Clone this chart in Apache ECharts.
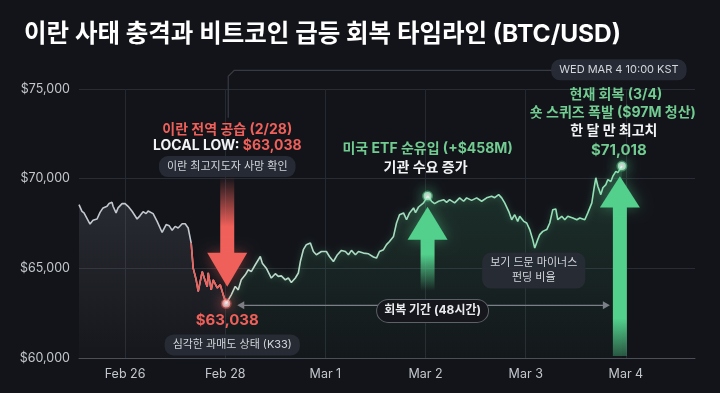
<!DOCTYPE html>
<html>
<head>
<meta charset="utf-8">
<script src="https://cdn.jsdelivr.net/npm/echarts@6/dist/echarts.min.js"></script>
<style>
html,body{margin:0;padding:0;background:#121419;}
#chart{width:720px;height:393px;}
</style>
</head>
<body>
<div id="chart"></div>
<script>
// x 값은 눈금 위치 기준 (0 = Feb 26, 1 = Feb 28, ... 5 = Mar 4)
const dayTicks = [0, 1, 2, 3, 4, 5];
const dayLabels = ['Feb 26', 'Feb 28', 'Mar 1', 'Mar 2', 'Mar 3', 'Mar 4'];

const btcT = [-0.46,-0.43,-0.41,-0.35,-0.32,-0.28,-0.25,-0.22,-0.18,-0.16,-0.13,-0.12,-0.09,-0.07,-0.03,0,
  0.03,0.07,0.12,0.15,0.18,0.21,0.23,0.28,0.32,0.37,0.41,0.44,0.47,0.5,0.53,0.57,0.6,0.63,
  0.66,0.68,0.71,0.73,0.77,0.79,0.82,0.83,0.86,0.88,0.92,0.95,0.98,1.01,
  1.06,1.1,1.13,1.16,1.2,1.23,1.26,1.3,1.35,1.37,1.41,1.46,1.5,1.53,1.56,1.6,1.63,1.66,1.7,1.73,1.75,1.78,1.81,1.85,1.88,1.91,1.96,
  2.01,2.04,2.08,2.12,2.16,2.2,2.23,2.26,2.3,2.33,2.38,2.43,2.48,2.51,2.54,2.58,2.61,2.64,2.68,2.71,2.74,2.78,2.81,2.84,2.88,2.9,2.93,2.98,3.02,
  3.06,3.09,3.13,3.18,3.21,3.24,3.29,3.34,3.38,3.41,3.46,3.51,3.56,3.61,3.66,3.69,3.73,3.76,3.79,3.83,3.86,3.89,3.92,3.94,3.98,4.01,
  4.04,4.07,4.09,4.12,4.14,4.17,4.21,4.24,4.27,4.3,4.32,4.36,4.39,4.42,4.47,4.51,4.54,4.59,4.62,4.66,4.68,4.7,4.72,4.75,4.77,4.8,4.82,4.85,4.87,4.9,4.92,4.96];
const btcPrice = [68550,68180,68090,67470,67680,67750,68120,68370,68460,68610,68680,68460,68090,68370,68610,68610,
  68460,68180,67750,67940,68160,68050,68200,68050,67620,67000,67440,67380,67120,67340,67250,67490,67490,67250,
  66410,65010,64360,63710,64820,64470,63970,64750,63800,64360,63910,64080,63520,63038,
  63520,63990,63800,64360,64640,64920,64820,65200,65660,65290,65010,64460,64700,64550,64580,64360,64460,64210,64460,64740,65380,66040,66320,66410,65940,65760,65940,
  65940,65660,65380,65760,66000,65940,65760,66000,65760,65940,65850,65810,65630,65570,65940,66040,66320,66500,66780,67530,67990,68090,67710,68090,68370,68110,68420,68650,69028,
  68740,68610,68740,68830,68680,68830,68650,68930,68740,68930,68790,68930,68740,68930,69020,68940,69110,68930,68650,68180,67710,67990,67620,67900,67620,67530,
  67160,66600,66130,66600,66880,67060,67160,67530,68270,68310,67710,67900,67710,67900,67810,67710,67810,67710,68090,68650,69390,70050,69580,69110,69490,69670,69950,69840,70140,70410,70340,70705];

const crashT = 0.66;   // 급락 시작
const lowT = 1.01;     // 저점

const keyT = [1.01, 3.02, 4.96];
const keyPrice = [63038, 69028, 70705];
const keyTone = ['red', 'green', 'green'];

// 화살표: 꼬리, 머리 밑, 끝
const arrowT = [1.02, 3.02, 4.94];
const arrowTail = [70060, 63800, 60170];
const arrowBase = [65870, 66600, 68390];
const arrowTip = [63970, 68440, 70135];
const arrowTone = ['red', 'green', 'green'];

const noteT = [1.02, 1.02, 1.02, 1.02, 1.07, 3.02, 3.0, 4.93, 4.9, 4.87, 4.88, 4.93, 4.08, 3.07];
const notePrice = [72745, 71851, 70677, 62068, 60727, 71683, 70621, 76071, 74702, 73679, 72689, 71588, 64875, 62627];
const noteText = [
  '이란 전역 공습 (2/28)',
  '{w|LOCAL LOW:} {r|$63,038}',
  '이란 최고지도자 사망 확인',
  '$63,038',
  '심각한 과매도 상태 (K33)',
  '미국 ETF 순유입 (+$458M)',
  '기관 수요 증가',
  'WED MAR 4 10:00 KST',
  '현재 회복 (3/4)',
  '숏 스퀴즈 폭발 ($97M 청산)',
  '한 달 만 최고치',
  '$71,018',
  '보기 드문 마이너스\n펀딩 비율',
  '회복 기간 (48시간)'
];
const noteKind = ['red', 'rich', 'pill', 'redPrice', 'pill', 'green', 'white', 'pill', 'green', 'green', 'white', 'greenPrice', 'pill', 'outline'];

const rangeT = [1.12, 4.84];
const rangePrice = 62935;
const bracketT = [1.03, 4.3];
const bracketPrice = [73400, 76040];

const FONT = "Inter, 'Noto Sans CJK KR', sans-serif";
const RED = '#f0605a';
const GREEN = '#52d08c';
const GREEN_TXT = '#72cc92';

const pre = [], crash = [], recovery = [];
btcT.forEach((t, i) => {
  const p = [t, btcPrice[i]];
  if (t <= lowT) pre.push(p);
  if (t >= crashT && t <= lowT) crash.push(p);
  if (t >= lowT) recovery.push(p);
});

function noteStyle(kind, text) {
  const base = {text: text, align: 'center', verticalAlign: 'middle', fontFamily: FONT};
  if (kind === 'red') return Object.assign(base, {fill: RED, fontSize: 14, fontWeight: 'bold'});
  if (kind === 'green') return Object.assign(base, {fill: GREEN_TXT, fontSize: 14, fontWeight: 'bold'});
  if (kind === 'white') return Object.assign(base, {fill: '#f2f3f5', fontSize: 14, fontWeight: 'bold'});
  if (kind === 'redPrice') return Object.assign(base, {fill: RED, fontSize: 15, fontWeight: 'bold'});
  if (kind === 'greenPrice') return Object.assign(base, {fill: GREEN_TXT, fontSize: 15, fontWeight: 'bold'});
  if (kind === 'rich') return Object.assign(base, {
    rich: {
      w: {fill: '#f2f3f5', fontSize: 14, fontWeight: 'bold', fontFamily: FONT},
      r: {fill: RED, fontSize: 14, fontWeight: 'bold', fontFamily: FONT}
    }
  });
  if (kind === 'pill') return Object.assign(base, {
    fill: '#d3d6db', fontSize: 11, lineHeight: 15,
    backgroundColor: 'rgba(40,44,54,0.92)', padding: [3, 8], borderRadius: 9
  });
  // outline
  return Object.assign(base, {
    fill: '#e8eaed', fontSize: 12, fontWeight: 'bold',
    backgroundColor: '#15171c', borderColor: '#5d616a', borderWidth: 1,
    padding: [5, 7], borderRadius: 12
  });
}

const chart = echarts.init(document.getElementById('chart'));
chart.setOption({
  backgroundColor: '#121419',
  animation: false,
  textStyle: {fontFamily: FONT},
  title: {
    text: '이란 사태 충격과 비트코인 급등 회복 타임라인 (BTC/USD)',
    left: 19, top: 17,
    textStyle: {color: '#ffffff', fontSize: 24.5, fontWeight: 'bold', fontFamily: FONT}
  },
  grid: {left: 79, right: 25, top: 89, bottom: 35, outerBoundsMode: 'none'},
  xAxis: {
    type: 'value', min: -0.46, max: 5.69,
    axisLine: {lineStyle: {color: '#4a4f58'}},
    axisTick: {show: false, customValues: dayTicks},
    axisLabel: {
      customValues: dayTicks, color: '#c3c7cd', fontSize: 12.5, margin: 10,
      formatter: v => dayLabels[dayTicks.indexOf(Math.round(v))]
    },
    splitLine: {show: true, lineStyle: {color: '#252931'}}
  },
  yAxis: {
    type: 'value', min: 60000, max: 75000, interval: 5000,
    axisLine: {show: false}, axisTick: {show: false},
    axisLabel: {color: '#c3c7cd', fontSize: 12.5, margin: 9, formatter: v => '$' + v.toLocaleString('en-US')},
    splitLine: {lineStyle: {color: '#282c34'}}
  },
  series: [
    {
      type: 'line', data: pre, symbol: 'none', z: 2,
      lineStyle: {color: '#c3c8cf', width: 1.6},
      areaStyle: {color: new echarts.graphic.LinearGradient(0, 0, 0, 1, [
        {offset: 0, color: 'rgba(130,135,148,0.28)'},
        {offset: 1, color: 'rgba(130,135,148,0.04)'}
      ])}
    },
    {
      type: 'line', data: crash, symbol: 'none', z: 3,
      lineStyle: {color: RED, width: 1.6}
    },
    {
      type: 'line', data: recovery, symbol: 'none', z: 3,
      lineStyle: {
        width: 1.6,
        color: new echarts.graphic.LinearGradient(0, 0, 1, 0, [
          {offset: 0, color: '#c4d8cf'},
          {offset: 0.5, color: '#9fdcbc'},
          {offset: 1, color: '#8fe3b5'}
        ]),
        shadowBlur: 6, shadowColor: 'rgba(110,220,160,0.35)'
      },
      areaStyle: {color: new echarts.graphic.LinearGradient(0, 0, 0, 1, [
        {offset: 0, color: 'rgba(80,190,130,0.26)'},
        {offset: 1, color: 'rgba(80,190,130,0.03)'}
      ])}
    },
    {
      // 기간 화살표 + 상단 연결선
      type: 'custom', z: 4, clip: false, silent: true,
      data: [[rangeT[0], rangePrice]],
      renderItem: (params, api) => {
        const a = api.coord([rangeT[0], rangePrice]);
        const b = api.coord([rangeT[1], rangePrice]);
        const c1 = api.coord([bracketT[0], bracketPrice[0]]);
        const c2 = api.coord([bracketT[0], bracketPrice[1]]);
        const c3 = api.coord([bracketT[1], bracketPrice[1]]);
        const col = '#7b7f87';
        return {type: 'group', children: [
          {type: 'line', shape: {x1: a[0] + 5, y1: a[1], x2: b[0] - 5, y2: b[1]}, style: {stroke: col, lineWidth: 1.2}},
          {type: 'polygon', shape: {points: [[a[0], a[1]], [a[0] + 7, a[1] - 4], [a[0] + 7, a[1] + 4]]}, style: {fill: col}},
          {type: 'polygon', shape: {points: [[b[0], b[1]], [b[0] - 7, b[1] - 4], [b[0] - 7, b[1] + 4]]}, style: {fill: col}},
          {type: 'polyline', shape: {points: [c1, [c2[0], c2[1] + 6], [c2[0] + 6, c2[1]], c3], smooth: 0}, style: {stroke: '#363a43', lineWidth: 1.2, fill: null}}
        ]};
      }
    },
    {
      type: 'custom', z: 5, clip: false, silent: true,
      data: arrowT.map((t, i) => [t, arrowTip[i]]),
      renderItem: (params, api) => {
        const i = params.dataIndex;
        const tip = api.coord([arrowT[i], arrowTip[i]]);
        const base = api.coord([arrowT[i], arrowBase[i]]);
        const tail = api.coord([arrowT[i], arrowTail[i]]);
        const red = arrowTone[i] === 'red';
        const col = red ? RED : GREEN;
        const clear = red ? 'rgba(240,96,90,0)' : 'rgba(82,208,140,0)';
        const stops = red
          ? [{offset: 0, color: clear}, {offset: 0.65, color: col}, {offset: 1, color: col}]
          : (i === 1
            ? [{offset: 0, color: col}, {offset: 0.3, color: col}, {offset: 1, color: clear}]
            : [{offset: 0, color: col}, {offset: 0.75, color: col}, {offset: 1, color: 'rgba(82,208,140,0.35)'}]);
        const sw = 14, hw = 20;
        const top = Math.min(base[1], tail[1]);
        const h = Math.abs(base[1] - tail[1]);
        return {type: 'group', children: [
          {type: 'rect', shape: {x: tip[0] - sw / 2, y: top - 1, width: sw, height: h + 2},
            style: {fill: new echarts.graphic.LinearGradient(0, 0, 0, 1, stops)}},
          {type: 'polygon', shape: {points: [[tip[0] - hw, base[1]], [tip[0] + hw, base[1]], [tip[0], tip[1]]]},
            style: {fill: col, shadowBlur: 14, shadowColor: red ? 'rgba(240,96,90,0.45)' : 'rgba(82,208,140,0.45)'}}
        ]};
      }
    },
    {
      type: 'scatter', z: 6, symbolSize: 8,
      data: keyT.map((t, i) => ({
        value: [t, keyPrice[i]],
        itemStyle: {
          color: '#ffffff',
          borderColor: keyTone[i] === 'red' ? 'rgba(240,96,90,0.55)' : 'rgba(110,230,160,0.55)',
          borderWidth: 3,
          shadowBlur: 14,
          shadowColor: keyTone[i] === 'red' ? RED : GREEN
        }
      }))
    },
    {
      type: 'custom', z: 7, clip: false, silent: true,
      data: noteT.map((t, i) => [t, notePrice[i]]),
      renderItem: (params, api) => {
        const i = params.dataIndex;
        const pt = api.coord([noteT[i], notePrice[i]]);
        return {type: 'text', x: pt[0], y: pt[1], style: noteStyle(noteKind[i], noteText[i])};
      }
    }
  ]
});
</script>
</body>
</html>
